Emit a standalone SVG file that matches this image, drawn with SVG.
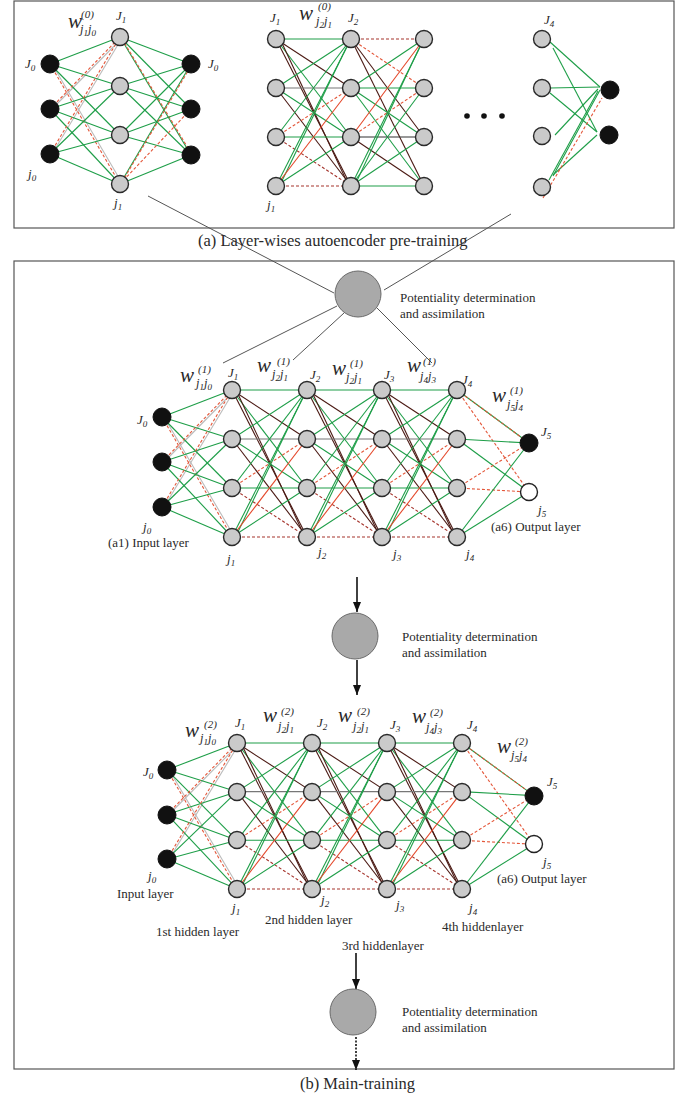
<svg xmlns="http://www.w3.org/2000/svg" width="690" height="1104" viewBox="0 0 690 1104">
<style>
.t{font-family:"Liberation Serif","Times New Roman",serif;fill:#2a2a2a}
.lb{font-size:13px}
.cap{font-size:16.5px}
.i{font-style:italic;font-size:13px}
.s{font-size:9px}
.w{font-style:italic;font-size:21px}
.sp{font-style:italic;font-size:11px}
.sb{font-style:italic;font-size:12.5px}
line{stroke-width:1.1;fill:none}
.g{stroke:#1e9e48}
.b{stroke:#4b1a14}
.k{stroke:#333}
.gy{stroke:#777}
.lg{stroke:#bbb}
.r{stroke:#e4472a}
.rd{stroke:#e4573a;stroke-dasharray:3 2}
.dd{stroke:#a5342c;stroke-dasharray:3 2}
.ln{stroke:#555;stroke-width:1}
.ar{stroke:#111;stroke-width:1.6}
.nd{fill:#cacaca;stroke:#2a2a2a;stroke-width:1.4}
.bk{fill:#111;stroke:#111}
.wh{fill:#fff;stroke:#222;stroke-width:1.4}
.big{fill:#a9a9a9;stroke:#6a6a6a;stroke-width:1}
.box{fill:none;stroke:#555;stroke-width:1.2}
</style>
<defs>
<marker id="ah" viewBox="0 0 10 10" refX="10" refY="5" markerWidth="10" markerHeight="8" preserveAspectRatio="none" markerUnits="userSpaceOnUse" orient="auto"><path d="M0,0 L10,5 L0,10 z" fill="#111"/></marker>
<g id="bIn">
<line class="lg" x1="2" y1="27" x2="72" y2="146"/>
<line class="lg" x1="2" y1="72" x2="72" y2="1"/>
<line class="lg" x1="2" y1="117" x2="72" y2="1"/>
<line class="g" x1="0" y1="27" x2="70" y2="0"/>
<line class="g" x1="0" y1="27" x2="70" y2="49"/>
<line class="g" x1="0" y1="27" x2="70" y2="98"/>
<line class="rd" x1="0" y1="27" x2="70" y2="147"/>
<line class="rd" x1="0" y1="72" x2="70" y2="0"/>
<line class="g" x1="0" y1="72" x2="70" y2="49"/>
<line class="g" x1="0" y1="72" x2="70" y2="98"/>
<line class="g" x1="0" y1="72" x2="70" y2="147"/>
<line class="rd" x1="0" y1="117" x2="70" y2="0"/>
<line class="g" x1="0" y1="117" x2="70" y2="49"/>
<line class="g" x1="0" y1="117" x2="70" y2="98"/>
<line class="g" x1="0" y1="117" x2="70" y2="147"/>
</g>
<g id="bP">
<line class="g" x1="0" y1="0" x2="75" y2="0"/>
<line class="b" x1="0" y1="0" x2="75" y2="49"/>
<line class="g" x1="0" y1="0" x2="75" y2="98"/>
<line class="b" x1="0" y1="0" x2="75" y2="147"/>
<line class="b" x1="5" y1="2" x2="72" y2="145"/>
<line class="g" x1="0" y1="49" x2="75" y2="0"/>
<line class="gy" x1="0" y1="49" x2="75" y2="49"/>
<line class="g" x1="0" y1="49" x2="75" y2="98"/>
<line class="b" x1="0" y1="49" x2="75" y2="147"/>
<line class="g" x1="0" y1="98" x2="75" y2="0"/>
<line class="rd" x1="0" y1="98" x2="75" y2="49"/>
<line class="g" x1="0" y1="98" x2="75" y2="98"/>
<line class="dd" x1="0" y1="98" x2="75" y2="147"/>
<line class="g" x1="0" y1="147" x2="75" y2="0"/>
<line class="g" x1="4" y1="146" x2="73" y2="3"/>
<line class="r" x1="0" y1="147" x2="75" y2="49"/>
<line class="g" x1="0" y1="147" x2="75" y2="98"/>
<line class="dd" x1="0" y1="147" x2="75" y2="147"/>
</g>
<g id="bQ">
<line class="dd" x1="0" y1="0" x2="73" y2="0"/>
<line class="rd" x1="0" y1="0" x2="73" y2="49"/>
<line class="b" x1="0" y1="0" x2="73" y2="98"/>
<line class="b" x1="0" y1="0" x2="73" y2="147"/>
<line class="g" x1="0" y1="49" x2="73" y2="0"/>
<line class="g" x1="0" y1="49" x2="73" y2="49"/>
<line class="g" x1="0" y1="49" x2="73" y2="98"/>
<line class="g" x1="0" y1="49" x2="73" y2="147"/>
<line class="r" x1="0" y1="98" x2="73" y2="0"/>
<line class="rd" x1="0" y1="98" x2="73" y2="49"/>
<line class="k" x1="0" y1="98" x2="73" y2="98"/>
<line class="b" x1="0" y1="98" x2="73" y2="147"/>
<line class="g" x1="0" y1="147" x2="73" y2="0"/>
<line class="g" x1="4" y1="146" x2="71" y2="3"/>
<line class="g" x1="0" y1="147" x2="73" y2="49"/>
<line class="g" x1="0" y1="147" x2="73" y2="98"/>
<line class="g" x1="0" y1="147" x2="73" y2="147"/>
</g>
<g id="bOut">
<line class="g" x1="0" y1="0" x2="72" y2="53"/>
<line class="rd" x1="0" y1="0" x2="72" y2="53"/>
<line class="rd" x1="0" y1="0" x2="72" y2="102"/>
<line class="g" x1="0" y1="49" x2="72" y2="53"/>
<line class="g" x1="0" y1="49" x2="72" y2="102"/>
<line class="rd" x1="0" y1="98" x2="72" y2="53"/>
<line class="rd" x1="0" y1="98" x2="72" y2="102"/>
<line class="g" x1="0" y1="147" x2="72" y2="53"/>
<line class="g" x1="0" y1="147" x2="72" y2="102"/>
</g>
<g id="bAE">
<line class="g" x1="0" y1="0" x2="71" y2="27"/>
<line class="g" x1="0" y1="0" x2="71" y2="72"/>
<line class="g" x1="0" y1="0" x2="71" y2="118"/>
<line class="rd" x1="2" y1="2" x2="71" y2="116"/>
<line class="g" x1="0" y1="49" x2="71" y2="27"/>
<line class="g" x1="0" y1="49" x2="71" y2="72"/>
<line class="g" x1="0" y1="49" x2="71" y2="118"/>
<line class="g" x1="0" y1="98" x2="71" y2="27"/>
<line class="g" x1="0" y1="98" x2="71" y2="72"/>
<line class="g" x1="0" y1="98" x2="71" y2="118"/>
<line class="g" x1="0" y1="147" x2="71" y2="27"/>
<line class="rd" x1="2" y1="145" x2="71" y2="29"/>
<line class="rd" x1="0" y1="147" x2="71" y2="72"/>
<line class="g" x1="0" y1="147" x2="71" y2="118"/>
</g>
</defs>
<rect width="690" height="1104" fill="#fff"/>
<g id="frames">
<rect class="box" x="14" y="1" width="660" height="227"/>
<rect class="box" x="14" y="261" width="660" height="808"/>
</g>
<g id="connectors">
<use href="#bIn" transform="translate(50,37)"/>
<use href="#bAE" transform="translate(120,37)"/>
<use href="#bP" transform="translate(276,39)"/>
<use href="#bQ" transform="translate(351,39)"/>
<line class="g" x1="550" y1="42" x2="600" y2="87"/>
<line class="g" x1="553" y1="48" x2="597" y2="132"/>
<line class="g" x1="550" y1="88" x2="600" y2="87"/>
<line class="g" x1="550" y1="93" x2="597" y2="132"/>
<line class="g" x1="555" y1="135" x2="598" y2="89"/>
<line class="g" x1="549" y1="180" x2="598" y2="91"/>
<line class="g" x1="553" y1="176" x2="600" y2="90"/>
<line class="g" x1="553" y1="175" x2="597" y2="135"/>
<line class="rd" x1="543" y1="198" x2="602" y2="98"/>
<use href="#bIn" transform="translate(162,390)"/>
<use href="#bP" transform="translate(232,390)"/>
<use href="#bP" transform="translate(307,390)"/>
<use href="#bP" transform="translate(382,390)"/>
<use href="#bOut" transform="translate(457,390)"/>
<use href="#bIn" transform="translate(167,743) scale(1,0.993)"/>
<use href="#bP" transform="translate(237,743) scale(1,0.993)"/>
<use href="#bP" transform="translate(312,743) scale(1,0.993)"/>
<use href="#bP" transform="translate(387,743) scale(1,0.993)"/>
<use href="#bOut" transform="translate(462,743) scale(1,0.993)"/>
<line class="ln" x1="148" y1="196" x2="334" y2="293"/>
<line class="ln" x1="511" y1="214" x2="384" y2="290"/>
<line class="ln" x1="337" y1="306" x2="223" y2="363"/>
<line class="ln" x1="344" y1="313" x2="293" y2="360"/>
<line class="ln" x1="377" y1="308" x2="432" y2="363"/>
<line class="ar" x1="357" y1="577" x2="357" y2="612" marker-end="url(#ah)"/>
<line class="ar" x1="357" y1="660" x2="357" y2="695" marker-end="url(#ah)"/>
<line class="ar" x1="356" y1="953" x2="356" y2="989" marker-end="url(#ah)"/>
<line class="ar" x1="356" y1="1037" x2="356" y2="1070" stroke-dasharray="2 1.5" marker-end="url(#ah)"/>
</g>
<g id="top-left-net">
<g id="tl_i1"><circle class="bk" cx="50" cy="64" r="9"/></g>
<g id="tl_i2"><circle class="bk" cx="50" cy="109" r="9"/></g>
<g id="tl_i3"><circle class="bk" cx="50" cy="154" r="9"/></g>
<g id="tl_h1"><circle class="nd" cx="120" cy="37" r="8.5"/></g>
<g id="tl_h2"><circle class="nd" cx="120" cy="86" r="8.5"/></g>
<g id="tl_h3"><circle class="nd" cx="120" cy="135" r="8.5"/></g>
<g id="tl_h4"><circle class="nd" cx="120" cy="184" r="8.5"/></g>
<g id="tl_o1"><circle class="bk" cx="191" cy="64" r="9"/></g>
<g id="tl_o2"><circle class="bk" cx="191" cy="109" r="9"/></g>
<g id="tl_o3"><circle class="bk" cx="191" cy="155" r="9"/></g>
</g>
<g id="top-mid-net">
<g id="tm_a1"><circle class="nd" cx="276" cy="39" r="8.5"/></g>
<g id="tm_a2"><circle class="nd" cx="276" cy="88" r="8.5"/></g>
<g id="tm_a3"><circle class="nd" cx="276" cy="137" r="8.5"/></g>
<g id="tm_a4"><circle class="nd" cx="276" cy="186" r="8.5"/></g>
<g id="tm_b1"><circle class="nd" cx="351" cy="39" r="8.5"/></g>
<g id="tm_b2"><circle class="nd" cx="351" cy="88" r="8.5"/></g>
<g id="tm_b3"><circle class="nd" cx="351" cy="137" r="8.5"/></g>
<g id="tm_b4"><circle class="nd" cx="351" cy="186" r="8.5"/></g>
<g id="tm_c1"><circle class="nd" cx="424" cy="39" r="8.5"/></g>
<g id="tm_c2"><circle class="nd" cx="424" cy="88" r="8.5"/></g>
<g id="tm_c3"><circle class="nd" cx="424" cy="137" r="8.5"/></g>
<g id="tm_c4"><circle class="nd" cx="424" cy="186" r="8.5"/></g>
<g id="dots"><circle cx="467" cy="116" r="2.8" fill="#111"/><circle cx="484" cy="116" r="2.8" fill="#111"/><circle cx="502" cy="116" r="2.8" fill="#111"/></g>
</g>
<g id="top-right-net">
<g id="tr_h1"><circle class="nd" cx="542" cy="39" r="8.5"/></g>
<g id="tr_h2"><circle class="nd" cx="542" cy="88" r="8.5"/></g>
<g id="tr_h3"><circle class="nd" cx="542" cy="136" r="8.5"/></g>
<g id="tr_h4"><circle class="nd" cx="542" cy="187" r="8.5"/></g>
<g id="tr_o1"><circle class="bk" cx="610" cy="90" r="9"/></g>
<g id="tr_o2"><circle class="bk" cx="609" cy="135" r="9"/></g>
</g>
<g id="pda1"><circle class="big" cx="358" cy="294" r="23"/></g>
<g id="pda2"><circle class="big" cx="355" cy="636" r="23"/></g>
<g id="pda3"><circle class="big" cx="353" cy="1012" r="23"/></g>
<g id="mid-net">
<g id="m_i1"><circle class="bk" cx="162" cy="417" r="9"/></g>
<g id="m_i2"><circle class="bk" cx="162" cy="462" r="9"/></g>
<g id="m_i3"><circle class="bk" cx="162" cy="507" r="9"/></g>
<g id="m_h11"><circle class="nd" cx="232" cy="390" r="8.5"/></g>
<g id="m_h12"><circle class="nd" cx="232" cy="439" r="8.5"/></g>
<g id="m_h13"><circle class="nd" cx="232" cy="488" r="8.5"/></g>
<g id="m_h14"><circle class="nd" cx="232" cy="537" r="8.5"/></g>
<g id="m_h21"><circle class="nd" cx="307" cy="390" r="8.5"/></g>
<g id="m_h22"><circle class="nd" cx="307" cy="439" r="8.5"/></g>
<g id="m_h23"><circle class="nd" cx="307" cy="488" r="8.5"/></g>
<g id="m_h24"><circle class="nd" cx="307" cy="537" r="8.5"/></g>
<g id="m_h31"><circle class="nd" cx="382" cy="390" r="8.5"/></g>
<g id="m_h32"><circle class="nd" cx="382" cy="439" r="8.5"/></g>
<g id="m_h33"><circle class="nd" cx="382" cy="488" r="8.5"/></g>
<g id="m_h34"><circle class="nd" cx="382" cy="537" r="8.5"/></g>
<g id="m_h41"><circle class="nd" cx="457" cy="390" r="8.5"/></g>
<g id="m_h42"><circle class="nd" cx="457" cy="439" r="8.5"/></g>
<g id="m_h43"><circle class="nd" cx="457" cy="488" r="8.5"/></g>
<g id="m_h44"><circle class="nd" cx="457" cy="537" r="8.5"/></g>
<g id="m_o1"><circle class="bk" cx="529" cy="443" r="9"/></g>
<g id="m_o2"><circle class="wh" cx="529" cy="492" r="8.5"/></g>
</g>
<g id="bot-net">
<g id="b_i1"><circle class="bk" cx="167" cy="770" r="9"/></g>
<g id="b_i2"><circle class="bk" cx="167" cy="815" r="9"/></g>
<g id="b_i3"><circle class="bk" cx="167" cy="859" r="9"/></g>
<g id="b_h11"><circle class="nd" cx="237" cy="743" r="8.5"/></g>
<g id="b_h12"><circle class="nd" cx="237" cy="792" r="8.5"/></g>
<g id="b_h13"><circle class="nd" cx="237" cy="840" r="8.5"/></g>
<g id="b_h14"><circle class="nd" cx="237" cy="889" r="8.5"/></g>
<g id="b_h21"><circle class="nd" cx="312" cy="743" r="8.5"/></g>
<g id="b_h22"><circle class="nd" cx="312" cy="792" r="8.5"/></g>
<g id="b_h23"><circle class="nd" cx="312" cy="840" r="8.5"/></g>
<g id="b_h24"><circle class="nd" cx="312" cy="889" r="8.5"/></g>
<g id="b_h31"><circle class="nd" cx="387" cy="743" r="8.5"/></g>
<g id="b_h32"><circle class="nd" cx="387" cy="792" r="8.5"/></g>
<g id="b_h33"><circle class="nd" cx="387" cy="840" r="8.5"/></g>
<g id="b_h34"><circle class="nd" cx="387" cy="889" r="8.5"/></g>
<g id="b_h41"><circle class="nd" cx="462" cy="743" r="8.5"/></g>
<g id="b_h42"><circle class="nd" cx="462" cy="792" r="8.5"/></g>
<g id="b_h43"><circle class="nd" cx="462" cy="840" r="8.5"/></g>
<g id="b_h44"><circle class="nd" cx="462" cy="889" r="8.5"/></g>
<g id="b_o1"><circle class="bk" cx="534" cy="796" r="9"/></g>
<g id="b_o2"><circle class="wh" cx="534" cy="844" r="8.5"/></g>
</g>
<g id="labels" class="t">
<text class="w" x="68" y="28">w</text><text class="sp" x="81" y="18">(0)</text><text class="sb" x="80" y="33">j<tspan class="s" dy="3">1</tspan><tspan dy="-3">j</tspan><tspan class="s" dy="3">0</tspan></text>
<text class="i" x="116" y="20">J<tspan class="s" dy="3">1</tspan></text>
<text class="i" x="25" y="68">J<tspan class="s" dy="3">0</tspan></text>
<text class="i" x="208" y="68">J<tspan class="s" dy="3">0</tspan></text>
<text class="i" x="28" y="178">j<tspan class="s" dy="3">0</tspan></text>
<text class="i" x="114" y="207">j<tspan class="s" dy="3">1</tspan></text>
<text class="i" x="270" y="22">J<tspan class="s" dy="3">1</tspan></text>
<text class="w" x="299" y="20">w</text><text class="sp" x="318" y="10">(0)</text><text class="sb" x="316" y="25">j<tspan class="s" dy="3">2</tspan><tspan dy="-3">j</tspan><tspan class="s" dy="3">1</tspan></text>
<text class="i" x="348" y="22">J<tspan class="s" dy="3">2</tspan></text>
<text class="i" x="267" y="209">j<tspan class="s" dy="3">1</tspan></text>
<text class="i" x="544" y="24">J<tspan class="s" dy="3">4</tspan></text>
<text class="cap" x="198" y="246">(a) Layer-wises autoencoder pre-training</text>
<text class="lb" x="400" y="302">Potentiality determination</text>
<text class="lb" x="400" y="318">and assimilation</text>
<text class="w" x="180" y="382">w</text><text class="sp" x="198" y="373">(1)</text><text class="sb" x="196" y="387">j<tspan class="s" dy="3">1</tspan><tspan dy="-3">j</tspan><tspan class="s" dy="3">0</tspan></text>
<text class="w" x="257" y="372">w</text><text class="sp" x="277" y="365">(1)</text><text class="sb" x="272" y="378">j<tspan class="s" dy="3">2</tspan><tspan dy="-3">j</tspan><tspan class="s" dy="3">1</tspan></text>
<text class="w" x="332" y="375">w</text><text class="sp" x="350" y="367">(1)</text><text class="sb" x="346" y="381">j<tspan class="s" dy="3">2</tspan><tspan dy="-3">j</tspan><tspan class="s" dy="3">1</tspan></text>
<text class="w" x="407" y="372">w</text><text class="sp" x="423" y="365">(1)</text><text class="sb" x="420" y="380">j<tspan class="s" dy="3">4</tspan><tspan dy="-3">j</tspan><tspan class="s" dy="3">3</tspan></text>
<text class="w" x="492" y="402">w</text><text class="sp" x="510" y="394">(1)</text><text class="sb" x="507" y="408">j<tspan class="s" dy="3">5</tspan><tspan dy="-3">j</tspan><tspan class="s" dy="3">4</tspan></text>
<text class="i" x="228" y="377">J<tspan class="s" dy="3">1</tspan></text>
<text class="i" x="310" y="379">J<tspan class="s" dy="3">2</tspan></text>
<text class="i" x="384" y="379">J<tspan class="s" dy="3">3</tspan></text>
<text class="i" x="462" y="384">J<tspan class="s" dy="3">4</tspan></text>
<text class="i" x="541" y="436">J<tspan class="s" dy="3">5</tspan></text>
<text class="i" x="137" y="424">J<tspan class="s" dy="3">0</tspan></text>
<text class="i" x="143" y="531">j<tspan class="s" dy="3">0</tspan></text>
<text class="i" x="227" y="563">j<tspan class="s" dy="3">1</tspan></text>
<text class="i" x="318" y="556">j<tspan class="s" dy="3">2</tspan></text>
<text class="i" x="393" y="558">j<tspan class="s" dy="3">3</tspan></text>
<text class="i" x="466" y="558">j<tspan class="s" dy="3">4</tspan></text>
<text class="i" x="538" y="514">j<tspan class="s" dy="3">5</tspan></text>
<text class="lb" x="108" y="547">(a1) Input layer</text>
<text class="lb" x="491" y="531">(a6) Output layer</text>
<text class="lb" x="402" y="641">Potentiality determination</text>
<text class="lb" x="402" y="657">and assimilation</text>
<text class="w" x="185" y="737">w</text><text class="sp" x="204" y="728">(2)</text><text class="sb" x="200" y="742">j<tspan class="s" dy="3">1</tspan><tspan dy="-3">j</tspan><tspan class="s" dy="3">0</tspan></text>
<text class="w" x="263" y="722">w</text><text class="sp" x="281" y="715">(2)</text><text class="sb" x="278" y="730">j<tspan class="s" dy="3">2</tspan><tspan dy="-3">j</tspan><tspan class="s" dy="3">1</tspan></text>
<text class="w" x="338" y="722">w</text><text class="sp" x="357" y="715">(2)</text><text class="sb" x="353" y="730">j<tspan class="s" dy="3">2</tspan><tspan dy="-3">j</tspan><tspan class="s" dy="3">1</tspan></text>
<text class="w" x="412" y="723">w</text><text class="sp" x="430" y="716">(2)</text><text class="sb" x="426" y="731">j<tspan class="s" dy="3">4</tspan><tspan dy="-3">j</tspan><tspan class="s" dy="3">3</tspan></text>
<text class="w" x="497" y="753">w</text><text class="sp" x="515" y="745">(2)</text><text class="sb" x="511" y="759">j<tspan class="s" dy="3">5</tspan><tspan dy="-3">j</tspan><tspan class="s" dy="3">4</tspan></text>
<text class="i" x="235" y="727">J<tspan class="s" dy="3">1</tspan></text>
<text class="i" x="317" y="727">J<tspan class="s" dy="3">2</tspan></text>
<text class="i" x="390" y="729">J<tspan class="s" dy="3">3</tspan></text>
<text class="i" x="467" y="729">J<tspan class="s" dy="3">4</tspan></text>
<text class="i" x="547" y="786">J<tspan class="s" dy="3">5</tspan></text>
<text class="i" x="143" y="776">J<tspan class="s" dy="3">0</tspan></text>
<text class="i" x="148" y="880">j<tspan class="s" dy="3">0</tspan></text>
<text class="i" x="232" y="912">j<tspan class="s" dy="3">1</tspan></text>
<text class="i" x="321" y="904">j<tspan class="s" dy="3">2</tspan></text>
<text class="i" x="396" y="909">j<tspan class="s" dy="3">3</tspan></text>
<text class="i" x="469" y="912">j<tspan class="s" dy="3">4</tspan></text>
<text class="i" x="543" y="866">j<tspan class="s" dy="3">5</tspan></text>
<text class="lb" x="117" y="898">Input layer</text>
<text class="lb" x="497" y="883">(a6) Output layer</text>
<text class="lb" x="156" y="936">1st hidden layer</text>
<text class="lb" x="265" y="924">2nd hidden layer</text>
<text class="lb" x="342" y="950">3rd hiddenlayer</text>
<text class="lb" x="442" y="931">4th hiddenlayer</text>
<text class="lb" x="402" y="1016">Potentiality determination</text>
<text class="lb" x="402" y="1032">and assimilation</text>
<text class="cap" x="300" y="1089">(b) Main-training</text>
</g>
</svg>
